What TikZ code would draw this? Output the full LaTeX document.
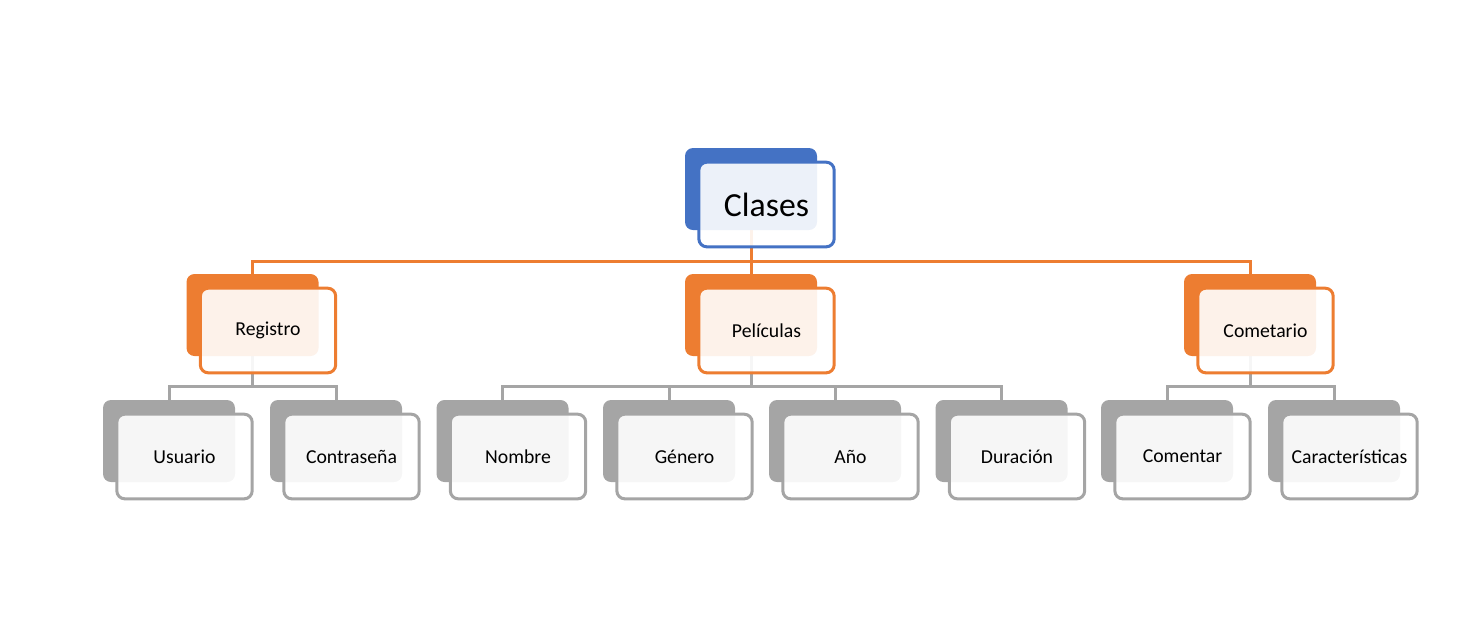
\documentclass[tikz,border=0pt]{standalone}
\usepackage{fontspec}
\setmainfont{Carlito}
\usetikzlibrary{backgrounds}
\definecolor{cblue}{HTML}{4472C4}
\definecolor{corange}{HTML}{ED7D31}
\definecolor{cgray}{HTML}{A5A5A5}
\tikzset{
  backbox/.style={rectangle, rounded corners=6pt, minimum width=99pt, minimum height=61.5pt, inner sep=0pt},
  frontbox/.style={rectangle, rounded corners=6pt, minimum width=101.5pt, minimum height=63.5pt, inner sep=0pt,
    line width=2.25pt, fill=white, fill opacity=0.9, text opacity=1, text=black},
  conn/.style={line width=2.25pt},
}
\newcommand\tbox[6]{%
  \node[backbox, fill=#4] (#1b) at (#2,#3) {};
  \node[frontbox, draw=#4, font=#6] (#1) at (#2+15.5,#3+15.5) {#5};
}
\begin{document}
\begin{tikzpicture}[x=0.75pt,y=-0.75pt]
\useasboundingbox (0,0) rectangle (1477,626);
\def\big{\fontsize{25.3}{30}\selectfont}
\def\sm{\fontsize{14.8}{18}\selectfont}
% top
\tbox{top}{751}{189}{cblue}{Clases}{\big}
% level 2
\tbox{reg}{252.5}{315}{corange}{Registro}{\sm}
\tbox{pel}{751}{315}{corange}{Películas}{\sm}
\tbox{com}{1250}{315}{corange}{Cometario}{\sm}
% level 3
\tbox{usu}{169}{441}{cgray}{Usuario}{\sm}
\tbox{con}{336}{441}{cgray}{Contraseña}{\sm}
\tbox{nom}{502.5}{441}{cgray}{Nombre}{\sm}
\tbox{gen}{669}{441}{cgray}{Género}{\sm}
\tbox{ano}{835}{441}{cgray}{Año}{\sm}
\tbox{dur}{1001.5}{441}{cgray}{Duración}{\sm}
\tbox{cmt}{1167}{441}{cgray}{Comentar}{\sm}
\tbox{car}{1334}{441}{cgray}{Características}{\sm}
\begin{scope}[on background layer]
  \foreach \c in {reg,pel,com}
    \draw[conn, corange] (topb.south) -- ++(0,31) -| (\c b.north);
  \foreach \c in {usu,con}
    \draw[conn, cgray] (regb.south) -- ++(0,30) -| (\c b.north);
  \foreach \c in {nom,gen,ano,dur}
    \draw[conn, cgray] (pelb.south) -- ++(0,30) -| (\c b.north);
  \foreach \c in {cmt,car}
    \draw[conn, cgray] (comb.south) -- ++(0,30) -| (\c b.north);
\end{scope}
\end{tikzpicture}
\end{document}
